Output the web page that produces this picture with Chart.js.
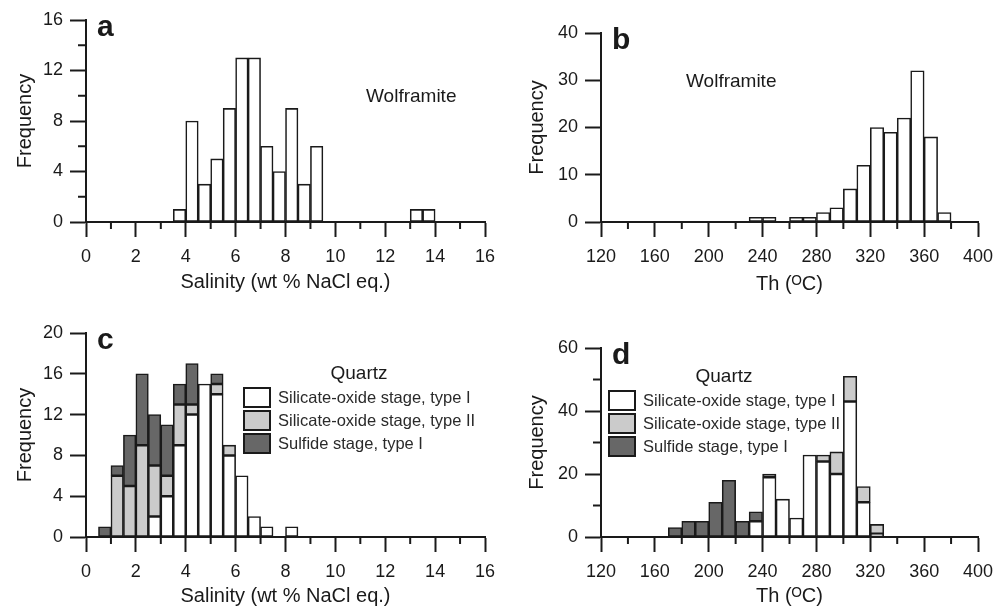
<!DOCTYPE html>
<html>
<head>
<meta charset="utf-8">
<script src="https://cdn.jsdelivr.net/npm/chart.js@4/dist/chart.umd.min.js"></script>
<style>
  body { margin: 0; background: #fff; }
  .panel { position: absolute; }
</style>
</head>
<body>
<div class="panel" style="left:0;top:0;width:500px;height:300px"><canvas id="chartA"></canvas></div>
<div class="panel" style="left:500px;top:0;width:505px;height:300px"><canvas id="chartB"></canvas></div>
<div class="panel" style="left:0;top:300px;width:500px;height:311px"><canvas id="chartC"></canvas></div>
<div class="panel" style="left:500px;top:300px;width:505px;height:311px"><canvas id="chartD"></canvas></div>
<script>
// (a) wolframite salinity, bin centres (0.5 wide bins)
const salWolfBins = [3.75, 4.25, 4.75, 5.25, 5.75, 6.25, 6.75, 7.25, 7.75, 8.25, 8.75, 9.25, 13.25, 13.75];
const salWolfCounts = [1, 8, 3, 5, 9, 13, 13, 6, 4, 9, 3, 6, 1, 1];

// (b) wolframite Th, bin centres (10 wide bins)
const thWolfBins = [235, 245, 265, 275, 285, 295, 305, 315, 325, 335, 345, 355, 365, 375];
const thWolfCounts = [1, 1, 1, 1, 2, 3, 7, 12, 20, 19, 22, 32, 18, 2];

// (c) quartz salinity, stacked
const salQtzBins = [0.75, 1.25, 1.75, 2.25, 2.75, 3.25, 3.75, 4.25, 4.75, 5.25, 5.75, 6.25, 6.75, 7.25, 8.25];
const salQtzTypeI  = [0, 0, 0, 0, 2, 4, 9, 12, 15, 14, 8, 6, 2, 1, 1];
const salQtzTypeII = [0, 6, 5, 9, 5, 2, 4, 1, 0, 1, 1, 0, 0, 0, 0];
const salQtzSulf   = [1, 1, 5, 7, 5, 5, 2, 4, 0, 1, 0, 0, 0, 0, 0];

// (d) quartz Th, stacked
const thQtzBins = [175, 185, 195, 205, 215, 225, 235, 245, 255, 265, 275, 285, 295, 305, 315, 325];
const thQtzTypeI  = [0, 0, 0, 0, 0, 0, 5, 19, 12, 6, 26, 24, 20, 43, 11, 1];
const thQtzTypeII = [0, 0, 0, 0, 0, 0, 0, 0, 0, 0, 0, 2, 7, 8, 5, 3];
const thQtzSulf   = [3, 5, 5, 11, 18, 5, 3, 1, 0, 0, 0, 0, 0, 0, 0, 0];

const legendLabels = ['Silicate-oxide stage, type I', 'Silicate-oxide stage, type II', 'Sulfide stage, type I'];
const fills = ['#ffffff', '#cbcbcb', '#676767'];

const FONT = 'Liberation Sans, Arial, sans-serif';
const INK = '#1a1a1a';

function pts(bins, vals) {
    return bins.map((b, i) => ({ x: b, y: vals[i] }));
}

function barSet(label, bins, vals, fill) {
    return {
        label: label,
        data: pts(bins, vals),
        backgroundColor: fill,
        borderColor: INK,
        borderWidth: 1.6,
        borderSkipped: false,
        barPercentage: 1,
        categoryPercentage: 1
    };
}

// minor ticks (shorter) drawn from the scales themselves
const minorTicks = {
    id: 'minorTicks',
    afterDraw(chart) {
        const ctx = chart.ctx;
        ctx.save();
        ctx.strokeStyle = INK;
        ctx.lineWidth = 2;
        ['x', 'y'].forEach(id => {
            const s = chart.scales[id];
            const every = s.options.labelEvery;
            s.ticks.forEach(t => {
                if (Math.round(t.value / every) * every === t.value) return;
                const p = s.getPixelForValue(t.value);
                ctx.beginPath();
                if (id === 'x') {
                    ctx.moveTo(p, chart.chartArea.bottom);
                    ctx.lineTo(p, chart.chartArea.bottom + 7);
                } else {
                    ctx.moveTo(chart.chartArea.left, p);
                    ctx.lineTo(chart.chartArea.left - 8, p);
                }
                ctx.stroke();
            });
        });
        ctx.restore();
    }
};

// panel letter, note text and legend
const annotations = {
    id: 'annotations',
    afterDraw(chart, args, opts) {
        const ctx = chart.ctx;
        const a = chart.chartArea;
        ctx.save();
        ctx.fillStyle = INK;
        ctx.textBaseline = 'middle';
        ctx.font = 'bold 30px ' + FONT;
        ctx.textAlign = 'left';
        ctx.fillText(opts.letter, a.left + 11, a.top + 8);
        if (opts.note) {
            ctx.font = '19px ' + FONT;
            ctx.fillText(opts.note.text, opts.note.x, opts.note.y);
        }
        if (opts.legend) {
            const L = opts.legend;
            ctx.font = '19px ' + FONT;
            ctx.textAlign = 'center';
            ctx.fillText('Quartz', L.titleX, L.titleY);
            ctx.font = '16.5px ' + FONT;
            ctx.textAlign = 'left';
            chart.data.datasets.forEach((ds, i) => {
                const y = L.boxY + i * 23;
                ctx.fillStyle = ds.backgroundColor;
                ctx.fillRect(L.boxX, y, 26, 19);
                ctx.strokeStyle = INK;
                ctx.lineWidth = 2;
                ctx.strokeRect(L.boxX, y, 26, 19);
                ctx.fillStyle = '#2a2a2a';
                ctx.fillText(ds.label, L.boxX + 34, y + 10);
            });
        }
        ctx.restore();
    }
};

function makeChart(id, cfg) {
    const stacked = cfg.datasets.length > 1;
    return new Chart(document.getElementById(id), {
        type: 'bar',
        data: { datasets: cfg.datasets },
        plugins: [minorTicks, annotations],
        options: {
            responsive: true,
            maintainAspectRatio: false,
            animation: false,
            layout: { padding: { left: 0, top: cfg.top, right: cfg.right, bottom: 0 } },
            plugins: {
                legend: { display: false },
                tooltip: { enabled: false },
                annotations: { letter: cfg.letter, note: cfg.note, legend: cfg.legend }
            },
            scales: {
                x: {
                    type: 'linear',
                    min: cfg.xMin, max: cfg.xMax,
                    stacked: stacked,
                    offset: false,
                    labelEvery: cfg.xLabelEvery,
                    afterFit: s => { s.height = cfg.xHeight; s.paddingLeft = 0; s.paddingRight = 0; },
                    afterBuildTicks: s => {
                        s.ticks = [];
                        for (let v = cfg.xMin; v <= cfg.xMax; v += cfg.xStep) s.ticks.push({ value: v });
                    },
                    ticks: {
                        autoSkip: false, maxRotation: 0, padding: 9, color: INK,
                        font: { family: FONT, size: 18 },
                        callback: v => (v % cfg.xLabelEvery === 0 ? v : '')
                    },
                    grid: {
                        offset: false, drawOnChartArea: false, tickLength: 15, tickWidth: 2,
                        tickColor: c => (c.tick && c.tick.value % cfg.xLabelEvery === 0 ? INK : 'rgba(0,0,0,0)')
                    },
                    border: { color: INK, width: 2 },
                    title: {
                        display: true, text: cfg.xTitle, color: INK,
                        font: { family: FONT, size: 20 }, padding: { top: 0, bottom: cfg.xTitlePad }
                    }
                },
                y: {
                    min: 0, max: cfg.yMax,
                    stacked: stacked,
                    labelEvery: cfg.yLabelEvery,
                    afterFit: s => { s.width = cfg.yWidth; s.paddingTop = 0; s.paddingBottom = 0; },
                    afterBuildTicks: s => {
                        s.ticks = [];
                        for (let v = 0; v <= cfg.yMax; v += cfg.yStep) s.ticks.push({ value: v });
                    },
                    ticks: {
                        padding: 7, color: INK,
                        font: { family: FONT, size: 18 },
                        callback: v => (v % cfg.yLabelEvery === 0 ? v : '')
                    },
                    grid: {
                        drawOnChartArea: false, tickLength: 16, tickWidth: 2,
                        tickColor: c => (c.tick && c.tick.value % cfg.yLabelEvery === 0 ? INK : 'rgba(0,0,0,0)')
                    },
                    border: { color: INK, width: 2 },
                    title: {
                        display: true, text: 'Frequency', color: INK,
                        font: { family: FONT, size: 20 }, padding: { top: cfg.yTitlePad, bottom: 0 }
                    }
                }
            }
        }
    });
}

makeChart('chartA', {
    datasets: [barSet('Wolframite', salWolfBins, salWolfCounts, '#ffffff')],
    top: 20, right: 15, xHeight: 78, yWidth: 86, xTitlePad: 6, yTitlePad: 13,
    xMin: 0, xMax: 16, xStep: 1, xLabelEvery: 2,
    yMax: 16, yStep: 2, yLabelEvery: 4,
    xTitle: 'Salinity (wt % NaCl eq.)',
    letter: 'a',
    note: { text: 'Wolframite', x: 366, y: 97 }
});

makeChart('chartB', {
    datasets: [barSet('Wolframite', thWolfBins, thWolfCounts, '#ffffff')],
    top: 33, right: 27, xHeight: 78, yWidth: 101, xTitlePad: 4, yTitlePad: 25,
    xMin: 120, xMax: 400, xStep: 20, xLabelEvery: 40,
    yMax: 40, yStep: 5, yLabelEvery: 10,
    xTitle: 'Th (\u1D3CC)',
    letter: 'b',
    note: { text: 'Wolframite', x: 186, y: 82 }
});

makeChart('chartC', {
    datasets: [
        barSet(legendLabels[0], salQtzBins, salQtzTypeI, fills[0]),
        barSet(legendLabels[1], salQtzBins, salQtzTypeII, fills[1]),
        barSet(legendLabels[2], salQtzBins, salQtzSulf, fills[2])
    ],
    top: 33, right: 15, xHeight: 74, yWidth: 86, xTitlePad: 3, yTitlePad: 13,
    xMin: 0, xMax: 16, xStep: 1, xLabelEvery: 2,
    yMax: 20, yStep: 2, yLabelEvery: 4,
    xTitle: 'Salinity (wt % NaCl eq.)',
    letter: 'c',
    legend: { titleX: 359, titleY: 74, boxX: 244, boxY: 88 }
});

makeChart('chartD', {
    datasets: [
        barSet(legendLabels[0], thQtzBins, thQtzTypeI, fills[0]),
        barSet(legendLabels[1], thQtzBins, thQtzTypeII, fills[1]),
        barSet(legendLabels[2], thQtzBins, thQtzSulf, fills[2])
    ],
    top: 48, right: 27, xHeight: 74, yWidth: 101, xTitlePad: 3, yTitlePad: 25,
    xMin: 120, xMax: 400, xStep: 20, xLabelEvery: 40,
    yMax: 60, yStep: 10, yLabelEvery: 20,
    xTitle: 'Th (\u1D3CC)',
    letter: 'd',
    legend: { titleX: 224, titleY: 77, boxX: 109, boxY: 91 }
});
</script>
</body>
</html>
